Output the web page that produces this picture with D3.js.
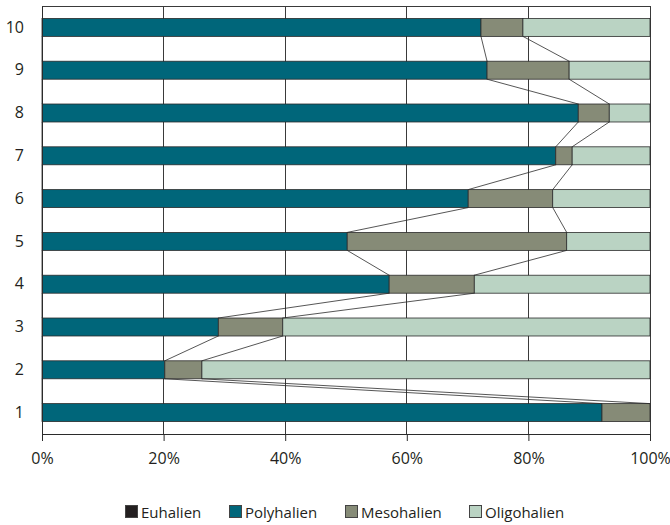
<!DOCTYPE html>
<html><head><meta charset="utf-8">
<script src="https://cdn.jsdelivr.net/npm/d3@7"></script>
<style>
body{margin:0;background:#fff;}
svg text{font-family:"Open Sans","Noto Sans",sans-serif;fill:#231f20;}
</style></head>
<body><svg id="c" width="670" height="525"></svg>
<script>
const categories = ["1","2","3","4","5","6","7","8","9","10"];
const seriesNames = ["Euhalien","Polyhalien","Mesohalien","Oligohalien"];
const euhalien    = [0,0,0,0,0,0,0,0,0,0];
const polyhalien  = [92.1,20.2,29.0,57.1,50.2,70.1,84.5,88.2,73.2,72.2];
const mesohalien  = [7.9,6.1,10.6,14.0,36.1,13.9,2.7,5.1,13.5,6.9];
const oligohalien = [0,73.7,60.4,28.9,13.7,16.0,12.8,6.7,13.3,20.9];
const xTicks = [0,20,40,60,80,100];
const colors = ["#231f20","#00667a","#868b77","#bad3c3"];

const svg = d3.select("#c");
const m = {l:42,r:20,t:6,b:91};
const W = 670, H = 525;
const x = d3.scaleLinear().domain([0,100]).range([m.l, W-m.r]);
const y = d3.scaleBand().domain(categories.slice().reverse()).range([m.t, H-m.b]).paddingInner(0.58).paddingOuter(0.29);

const table = categories.map((c,i)=>({cat:c, Euhalien:euhalien[i], Polyhalien:polyhalien[i], Mesohalien:mesohalien[i], Oligohalien:oligohalien[i]}));
const stack = d3.stack().keys(seriesNames)(table);

// gridlines
svg.append("g").selectAll("line").data(xTicks).join("line")
  .attr("x1",d=>x(d)).attr("x2",d=>x(d)).attr("y1",m.t).attr("y2",H-m.b)
  .attr("stroke","#3a3a3a").attr("stroke-width",1).attr("shape-rendering","crispEdges");
svg.append("line").attr("x1",x(0)).attr("x2",x(100)).attr("y1",m.t+0.5).attr("y2",m.t+0.5)
  .attr("stroke","#3a3a3a").attr("stroke-width",1);

// bars
const g = svg.append("g");
stack.forEach((s,si)=>{
  g.append("g").selectAll("rect").data(s.filter(d=>d[1]-d[0]>0)).join("rect")
    .attr("x",d=>x(d[0])).attr("width",d=>x(d[1])-x(d[0]))
    .attr("y",d=>y(d.data.cat)).attr("height",y.bandwidth())
    .attr("fill",colors[si]).attr("stroke","#2b2b2b").attr("stroke-width",0.8);
});

// connector lines between consecutive bars
const lines = svg.append("g");
for(let si=0; si<stack.length-1; si++){
  for(let i=0;i<categories.length-1;i++){
    const lo = stack[si][i], hi = stack[si][i+1];
    lines.append("line")
      .attr("x1",x(lo[1])).attr("y1",y(categories[i]))
      .attr("x2",x(hi[1])).attr("y2",y(categories[i+1])+y.bandwidth())
      .attr("stroke","#2b2b2b").attr("stroke-width",0.8);
  }
}

// axes
const xa = svg.append("g").attr("transform",`translate(0,${H-m.b})`)
  .call(d3.axisBottom(x).tickValues(xTicks).tickFormat(d=>d+"%").tickSize(7).tickPadding(12));
xa.select(".domain").attr("stroke","#2b2b2b");
xa.selectAll(".tick line").attr("stroke","#2b2b2b");
xa.selectAll("text").attr("font-size",16).attr("fill","#231f20");

const ya = svg.append("g").attr("transform",`translate(${m.l},0)`)
  .call(d3.axisLeft(y).tickSize(0).tickPadding(18));
ya.select(".domain").attr("stroke","#2b2b2b");
ya.selectAll("text").attr("font-size",16).attr("fill","#231f20");

// legend
const legX = [125,229,345,469];
const leg = svg.append("g");
seriesNames.forEach((n,i)=>{
  leg.append("rect").attr("x",legX[i]+0.5).attr("y",505.5).attr("width",12).attr("height",12)
    .attr("fill",colors[i]).attr("stroke","#444").attr("stroke-width",1);
  leg.append("text").attr("x",legX[i]+16).attr("y",518).attr("font-size",15).text(n);
});
</script></body></html>
